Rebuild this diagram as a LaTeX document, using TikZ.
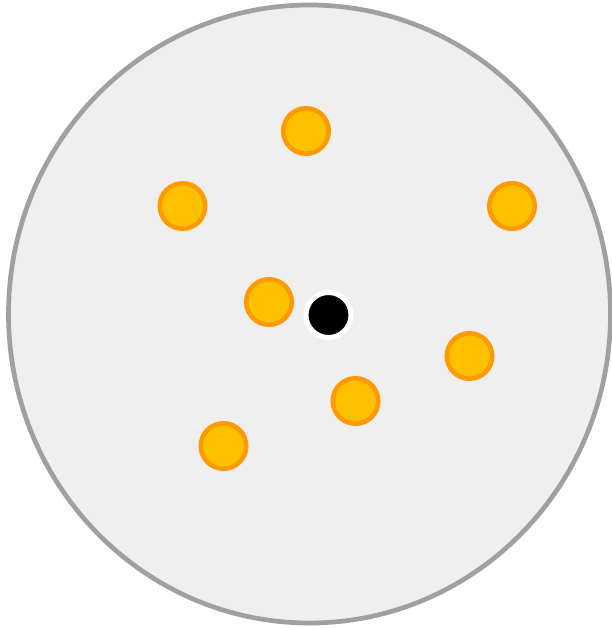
\documentclass[tikz,border=0pt]{standalone}
\usepackage{xcolor}
\definecolor{dishgray}{HTML}{A0A0A0}
\definecolor{dishfill}{HTML}{EFEFEF}
\definecolor{beadorange}{HTML}{FF9900}
\definecolor{beadyellow}{HTML}{FFC000}

\begin{document}
\begin{tikzpicture}[x=1pt,y=-1pt,
  bead/.style={circle, inner sep=0, minimum size=45.5, line width=4.5,
    draw=beadorange, fill=beadyellow},
  hub/.style={circle, inner sep=0, minimum size=45, line width=5,
    draw=white, fill=black}]
\useasboundingbox (0,0) rectangle (611,628);

%the dish
\draw[line width=4.7, color=dishgray, fill=dishfill] (309.5,314) ellipse (301 and 309);

%the beads
\node[bead] (b1) at (306,131) {};
\node[bead] (b2) at (182.5,206) {};
\node[bead] (b3) at (512,206) {};
\node[bead] (b4) at (269,302) {};
\node[bead] (b5) at (469.5,356) {};
\node[bead] (b6) at (355.5,401) {};
\node[bead] (b7) at (223.5,446) {};

%centre
\node[hub] (c) at (328.5,315) {};

\end{tikzpicture}
\end{document}
